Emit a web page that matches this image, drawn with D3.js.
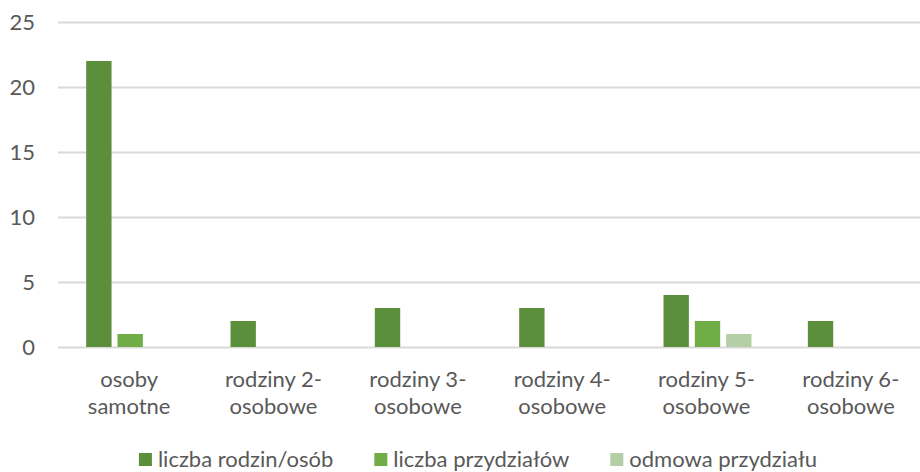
<!DOCTYPE html>
<html>
<head>
<meta charset="utf-8">
<script src="https://cdn.jsdelivr.net/npm/d3@7"></script>
<style>
  html, body { margin: 0; padding: 0; background: #fff; }
  svg { display: block; }
  text { font-family: Lato, "Open Sans", sans-serif; fill: #595959; }
</style>
</head>
<body>
<svg id="chart" width="920" height="472"></svg>
<script>
const categories = ["osoby samotne", "rodziny 2-osobowe", "rodziny 3-osobowe", "rodziny 4-osobowe", "rodziny 5-osobowe", "rodziny 6-osobowe"];
const seriesNames = ["liczba rodzin/osób", "liczba przydziałów", "odmowa przydziału"];
const liczbaRodzin = [22, 2, 3, 3, 4, 2];
const liczbaPrzydzialow = [1, 0, 0, 0, 2, 0];
const odmowaPrzydzialu = [0, 0, 0, 0, 1, 0];
const yTicks = [0, 5, 10, 15, 20, 25];
const colors = ["#5b8f3b", "#70ad47", "#b4cfa5"];

const seriesValues = [liczbaRodzin, liczbaPrzydzialow, odmowaPrzydzialu];

const svg = d3.select("#chart");
const mLeft = 58, mRight = 924, mTop = 22, mBottom = 347;

const x0 = d3.scaleBand().domain(categories).range([mLeft, mRight]).paddingInner(0).paddingOuter(0);
const x1 = d3.scaleBand().domain(seriesNames).range([0, x0.bandwidth()]).paddingInner(0.19).paddingOuter(0.9);
const y = d3.scaleLinear().domain([0, 25]).range([mBottom, mTop]);

// gridlines
const yAxis = d3.axisLeft(y).tickValues(yTicks).tickSize(-(mRight - mLeft)).tickPadding(23).tickFormat(d3.format("d"));
const gAxis = svg.append("g").attr("transform", `translate(${mLeft},0)`).call(yAxis);
gAxis.select(".domain").remove();
gAxis.selectAll(".tick line").attr("stroke", "#d9d9d9").attr("stroke-width", 2);
gAxis.selectAll(".tick text").attr("font-size", 22).attr("fill", "#595959").style("font-family", "Lato, 'Open Sans', sans-serif").attr("dy", "0.35em");

// bars
const data = [];
categories.forEach((c, i) => {
  seriesNames.forEach((s, j) => {
    data.push({ cat: c, series: s, value: seriesValues[j][i], color: colors[j] });
  });
});
svg.append("g").selectAll("rect").data(data.filter(d => d.value > 0)).join("rect")
  .attr("x", d => x0(d.cat) + x1(d.series))
  .attr("width", x1.bandwidth())
  .attr("y", d => y(d.value))
  .attr("height", d => y(0) - y(d.value))
  .attr("fill", d => d.color);

// category labels
function wrap(label) {
  if (label.indexOf("-") >= 0) {
    const k = label.indexOf("-");
    return [label.slice(0, k + 1), label.slice(k + 1)];
  }
  const s = label.indexOf(" ");
  return [label.slice(0, s), label.slice(s + 1)];
}
const xAxis = d3.axisBottom(x0).tickSize(0).tickFormat("");
const gx = svg.append("g").attr("transform", `translate(0,${mBottom})`).call(xAxis);
gx.select(".domain").remove();
gx.selectAll(".tick").each(function(d) {
  const lines = wrap(d);
  const t = d3.select(this).append("text")
    .attr("text-anchor", "middle")
    .attr("font-size", 22)
    .attr("fill", "#595959");
  lines.forEach((ln, k) => {
    t.append("tspan").attr("x", -1).attr("y", 40 + k * 27).text(ln);
  });
});

// legend
const legend = svg.append("g");
const items = legend.selectAll("g").data(seriesNames).join("g");
items.append("rect").attr("width", 13).attr("height", 13).attr("y", 453).attr("fill", (d, i) => colors[i]);
items.append("text").attr("x", 19).attr("y", 467).attr("font-size", 22).text(d => d);
let xpos = 0;
const gap = 41;
items.each(function() {
  const w = 19 + d3.select(this).select("text").node().getComputedTextLength();
  d3.select(this).attr("transform", `translate(${xpos},0)`);
  xpos += w + gap;
});
const total = xpos - gap;
legend.attr("transform", `translate(${478 - total / 2},0)`);
</script>
</body>
</html>
